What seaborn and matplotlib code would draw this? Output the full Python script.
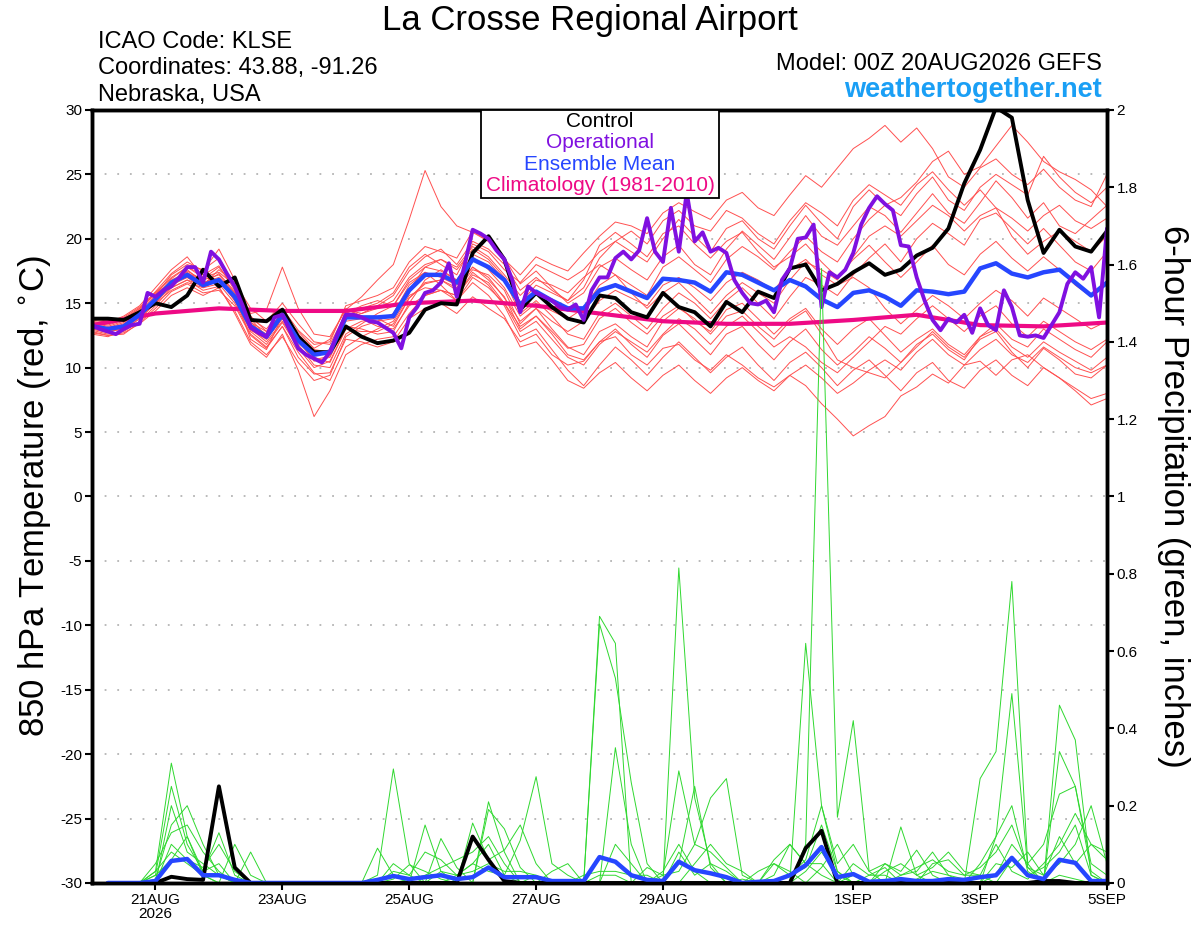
import numpy as np
import pandas as pd
import seaborn as sns
import matplotlib.pyplot as plt
from matplotlib.patches import Rectangle

sns.set_style("white")
plt.rcParams['font.family'] = ['Liberation Sans', 'DejaVu Sans']
plt.rcParams['axes.unicode_minus'] = False
for key in ['text.color', 'axes.labelcolor', 'xtick.color', 'ytick.color']:
    plt.rcParams[key] = 'black'

# hours after 00Z 20AUG2026
hours = list(range(0, 385, 6))          # 6-hourly ensemble output
op_hours = list(range(0, 385, 3))       # 3-hourly operational run
clim_hours = list(range(0, 385, 24))    # daily climatology
precip_hours = list(range(6, 385, 6))   # 6-h accumulation ending at

tick_hours = [24, 72, 120, 168, 216, 288, 336, 384]
tick_labels = ['21AUG\n2026', '23AUG', '25AUG', '27AUG', '29AUG', '1SEP', '3SEP', '5SEP']

# 850 hPa temperature (C)
control_temp = [
    13.8, 13.8, 13.7, 14.3, 15.0, 14.7, 15.6, 17.6, 16.3, 17.0, 13.7, 13.6, 14.5, 12.4, 11.2, 11.2,
    13.2, 12.4, 11.9, 12.1, 12.7, 14.5, 15.0, 14.9, 18.9, 20.2, 18.4, 14.5, 15.8, 14.7, 13.8, 13.5,
    15.6, 15.4, 14.3, 13.9, 15.8, 14.7, 14.3, 13.2, 15.1, 14.3, 15.9, 15.4, 17.7, 18.0, 16.0, 16.5,
    17.4, 18.1, 17.2, 17.6, 18.7, 19.3, 20.8, 24.3, 26.9, 30.2, 29.4, 23.0, 18.9, 20.7, 19.4, 19.0, 20.6]

mean_temp = [
    13.2, 13.0, 13.2, 14.1, 15.3, 16.6, 17.2, 16.4, 16.8, 15.5, 13.2, 12.4, 14.1, 12.1, 11.0, 11.2,
    13.9, 13.9, 13.9, 14.0, 16.0, 17.2, 17.2, 16.6, 18.4, 17.8, 16.8, 14.9, 15.9, 15.2, 14.6, 14.6,
    16.0, 16.4, 15.9, 15.4, 16.9, 16.8, 16.6, 15.9, 17.4, 17.2, 16.6, 16.0, 16.8, 16.3, 15.3, 14.7,
    15.8, 16.0, 15.5, 14.8, 16.0, 15.9, 15.7, 15.9, 17.7, 18.1, 17.3, 17.0, 17.4, 17.6, 16.6, 15.6, 16.6]

oper_temp = [
    13.3, 13.0, 12.8, 12.6, 13.0, 13.3, 13.4, 15.8, 15.5, 16.0, 16.3, 17.0, 17.8, 17.8, 16.6, 19.0,
    18.4, 17.3, 16.3, 14.8, 13.1, 12.7, 12.4, 13.9, 14.1, 12.8, 11.5, 11.0, 10.7, 10.4, 11.2, 12.7,
    14.1, 14.1, 13.9, 13.6, 13.5, 13.1, 12.7, 11.5, 13.9, 14.7, 15.8, 16.0, 16.6, 18.1, 15.5, 18.0,
    20.7, 20.4, 20.0, 19.1, 18.4, 16.8, 14.3, 16.3, 15.8, 15.5, 15.2, 14.7, 14.5, 14.9, 13.7, 16.0,
    17.0, 17.0, 18.5, 19.0, 18.4, 19.1, 21.6, 19.0, 18.2, 22.4, 19.0, 23.6, 19.8, 20.5, 19.0, 19.3,
    18.9, 16.8, 15.8, 15.0, 14.9, 15.2, 14.3, 16.8, 17.7, 20.0, 20.1, 21.1, 14.7, 17.4, 17.0, 17.6,
    18.9, 21.1, 22.4, 23.3, 22.7, 22.2, 19.5, 19.4, 17.0, 15.2, 13.7, 12.9, 13.8, 13.5, 14.1, 12.7,
    14.6, 13.3, 12.9, 16.0, 14.7, 12.5, 12.4, 12.5, 12.3, 13.3, 14.3, 16.5, 17.4, 16.9, 17.8, 13.9, 20.8]

clim_temp = [13.3, 14.2, 14.6, 14.4, 14.4, 15.0, 15.2, 14.8, 14.2, 13.6, 13.4, 13.4, 13.7, 14.1, 13.3, 13.2, 13.5]

temp_members = [
    [13.5, 13.2, 13.6, 14.5, 15.8, 16.9, 17.8, 17.2, 17.9, 16.0, 13.8, 13.0, 14.6, 12.9, 11.8, 12.0,
     14.8, 15.2, 15.6, 16.2, 18.2, 19.4, 19.0, 18.5, 20.6, 19.8, 18.4, 17.2, 18.6, 18.0, 17.5, 18.9,
     20.2, 21.3, 21.0, 20.4, 22.0, 22.8, 22.1, 21.5, 23.0, 23.6, 22.4, 21.8, 23.4, 24.9, 24.0, 25.5,
     27.0, 27.8, 28.8, 27.5, 28.6, 27.0, 24.8, 24.0, 25.5, 26.2, 25.0, 24.2, 25.4, 24.0, 23.0, 22.5, 25.0],
    [12.8, 12.5, 12.6, 13.5, 14.6, 15.9, 16.5, 15.8, 16.0, 14.8, 12.5, 11.5, 13.2, 10.8, 9.5, 9.6,
     12.2, 12.0, 11.6, 12.0, 13.8, 14.6, 15.0, 14.2, 15.5, 14.6, 13.8, 12.0, 12.6, 11.0, 10.2, 10.5,
     12.0, 12.4, 11.0, 10.2, 11.5, 11.8, 10.6, 9.8, 11.0, 10.2, 9.2, 8.5, 9.4, 8.6, 7.2, 6.0,
     4.7, 5.5, 6.2, 7.8, 8.5, 9.5, 8.8, 10.2, 10.5, 9.4, 10.6, 11.0, 10.0, 9.2, 8.4, 7.6, 8.0],
    [13.0, 12.8, 13.0, 14.0, 15.0, 16.5, 17.5, 16.8, 17.2, 15.8, 13.5, 12.8, 14.2, 12.5, 11.3, 11.0,
     14.5, 15.5, 16.8, 18.0, 21.5, 25.3, 22.5, 21.0, 20.5, 19.8, 18.5, 16.5, 17.5, 16.2, 15.0, 15.8,
     17.8, 18.5, 17.6, 16.8, 18.6, 19.5, 18.0, 17.2, 19.2, 20.6, 19.5, 18.4, 20.1, 21.8, 20.2, 19.5,
     21.0, 22.5, 21.8, 20.5, 22.0, 23.5, 22.0, 21.2, 22.8, 24.5, 23.2, 21.6, 22.8, 21.0, 20.4, 21.5, 22.6],
    [12.9, 12.6, 12.8, 13.6, 14.8, 16.2, 16.8, 16.0, 16.3, 14.2, 11.8, 10.8, 12.6, 9.8, 6.2, 8.2,
     11.0, 11.8, 12.2, 12.4, 14.2, 15.6, 16.0, 15.2, 17.0, 16.2, 15.0, 13.2, 14.0, 12.8, 11.5, 11.8,
     13.8, 14.6, 13.5, 12.6, 14.0, 14.8, 13.6, 12.8, 14.5, 15.0, 13.8, 12.6, 13.8, 14.6, 13.0, 11.8,
     13.0, 13.8, 12.5, 11.2, 12.2, 13.0, 11.8, 11.0, 12.4, 13.0, 11.6, 10.8, 12.0, 11.2, 10.5, 9.8, 10.8],
    [13.4, 13.1, 13.5, 14.4, 15.6, 17.2, 18.0, 17.6, 18.5, 16.4, 14.2, 14.5, 17.8, 14.6, 12.6, 12.4,
     14.5, 14.2, 14.8, 15.6, 17.5, 18.6, 19.2, 18.0, 19.8, 19.2, 18.0, 16.0, 17.0, 16.0, 15.2, 16.2,
     18.5, 19.8, 19.0, 18.2, 20.0, 21.5, 20.2, 19.0, 20.8, 21.4, 20.0, 19.2, 21.0, 22.6, 21.2, 20.0,
     22.5, 23.8, 22.6, 21.8, 23.5, 24.8, 23.0, 22.2, 24.0, 25.0, 24.2, 23.4, 26.4, 24.8, 23.6, 22.8, 24.0],
    [13.6, 13.4, 13.8, 14.6, 15.9, 17.3, 18.2, 17.5, 19.2, 16.8, 14.0, 12.8, 14.2, 12.2, 10.5, 10.8,
     13.2, 13.0, 12.6, 12.8, 15.0, 16.8, 17.6, 16.8, 18.8, 18.2, 16.8, 14.2, 15.2, 14.0, 12.6, 12.2,
     14.2, 15.0, 14.0, 13.0, 14.6, 15.8, 15.0, 13.8, 15.2, 16.2, 15.0, 13.8, 15.5, 17.0, 16.4, 15.6,
     17.2, 18.5, 19.6, 18.2, 20.0, 21.2, 20.4, 19.5, 21.5, 22.0, 20.8, 19.6, 20.8, 19.5, 18.2, 17.5, 19.0],
    [12.6, 12.4, 12.9, 13.8, 15.0, 16.0, 16.6, 16.2, 16.8, 15.2, 12.8, 11.8, 13.5, 11.5, 10.0, 10.5,
     13.0, 13.6, 13.8, 13.2, 15.4, 16.5, 16.8, 16.2, 17.8, 16.8, 15.5, 13.0, 14.0, 12.6, 11.0, 10.6,
     12.0, 13.0, 11.8, 10.8, 12.5, 13.4, 12.2, 11.0, 12.6, 13.2, 11.8, 10.6, 12.0, 13.0, 11.4, 10.2,
     11.2, 12.4, 11.5, 10.4, 11.6, 12.8, 11.6, 10.8, 12.2, 12.8, 11.2, 10.0, 11.5, 10.6, 9.5, 9.2, 10.2],
    [13.3, 13.0, 13.3, 14.2, 15.4, 16.8, 17.4, 16.6, 17.0, 15.8, 13.4, 12.6, 14.4, 12.6, 11.4, 11.2,
     13.8, 14.2, 14.6, 15.2, 17.0, 18.0, 18.4, 17.6, 19.2, 18.4, 17.0, 15.0, 16.4, 15.8, 15.2, 16.8,
     19.5, 20.5, 19.6, 18.6, 20.4, 21.0, 19.6, 18.5, 19.8, 20.5, 19.0, 17.8, 18.6, 19.6, 18.2, 17.0,
     18.4, 19.5, 18.2, 17.0, 18.2, 19.5, 18.0, 17.2, 18.8, 19.8, 18.5, 17.5, 18.6, 17.6, 16.4, 15.5, 16.6],
    [13.1, 12.9, 13.1, 13.9, 15.1, 16.4, 17.0, 16.2, 16.5, 15.0, 12.6, 11.6, 13.2, 11.2, 9.6, 9.0,
     11.6, 12.4, 13.0, 13.6, 15.6, 16.2, 16.0, 15.6, 17.4, 16.4, 14.8, 12.4, 13.0, 11.4, 9.8, 8.6,
     10.2, 11.6, 10.6, 9.4, 10.8, 12.0, 10.8, 9.6, 10.8, 11.6, 10.2, 9.0, 10.4, 11.2, 10.0, 8.6,
     9.8, 10.6, 9.4, 8.2, 9.6, 10.4, 9.0, 8.4, 9.8, 10.6, 9.4, 8.6, 10.0, 9.2, 8.2, 7.1, 7.6],
    [13.7, 13.5, 14.0, 14.8, 16.2, 17.6, 18.6, 17.0, 16.8, 15.6, 12.2, 11.4, 14.0, 12.8, 11.5, 12.2,
     14.6, 14.0, 13.6, 13.8, 16.0, 17.8, 17.5, 16.8, 18.6, 17.6, 16.2, 14.0, 15.0, 14.4, 13.8, 14.6,
     16.4, 17.2, 16.4, 15.6, 17.8, 18.6, 17.6, 16.6, 18.4, 19.4, 18.6, 17.6, 19.0, 20.2, 19.0, 18.2,
     20.0, 21.5, 22.6, 23.2, 24.4, 26.0, 26.8, 25.0, 25.6, 27.2, 28.8, 27.5, 26.0, 25.2, 24.6, 23.8, 22.5],
    [13.2, 13.0, 13.4, 14.3, 15.2, 16.2, 16.8, 16.4, 17.6, 16.6, 14.6, 13.6, 15.0, 13.4, 12.0, 11.8,
     14.2, 14.8, 15.2, 14.8, 16.6, 17.4, 17.0, 16.4, 17.8, 17.0, 15.4, 13.6, 14.6, 13.6, 12.8, 13.6,
     15.2, 16.0, 15.4, 14.8, 16.4, 17.0, 16.2, 15.2, 16.6, 17.4, 16.8, 16.0, 17.6, 18.4, 17.2, 16.4,
     17.0, 16.2, 14.6, 13.4, 14.5, 15.6, 14.8, 13.8, 15.0, 16.0, 15.2, 14.0, 15.4, 14.6, 13.8, 13.0, 13.6],
    [13.8, 13.6, 13.9, 14.7, 15.8, 17.0, 17.8, 17.0, 17.4, 16.4, 13.8, 12.4, 13.8, 12.0, 10.8, 10.4,
     13.0, 12.8, 12.8, 13.4, 15.4, 16.6, 16.8, 16.0, 17.6, 17.2, 16.0, 13.4, 14.6, 13.0, 11.6, 11.0,
     12.8, 13.4, 12.4, 11.6, 13.6, 14.6, 13.8, 12.6, 14.0, 14.4, 13.2, 12.2, 13.6, 14.4, 12.6, 10.6,
     10.0, 9.6, 9.2, 10.4, 11.8, 12.6, 11.4, 10.6, 12.4, 13.4, 12.2, 11.6, 13.0, 12.2, 11.4, 10.8, 12.0],
    [13.0, 12.7, 13.2, 14.0, 15.5, 16.6, 17.3, 16.9, 17.8, 16.2, 13.6, 12.2, 13.8, 12.4, 11.0, 11.4,
     14.0, 14.6, 15.0, 15.8, 17.8, 18.8, 18.0, 17.2, 19.6, 19.0, 17.6, 16.6, 18.0, 17.4, 16.8, 17.6,
     19.0, 19.8, 20.6, 19.6, 21.4, 22.2, 21.0, 20.6, 22.2, 21.6, 20.4, 19.6, 21.4, 22.8, 22.0, 21.0,
     23.0, 24.2, 23.4, 22.6, 24.2, 25.2, 23.8, 22.6, 23.8, 22.4, 21.6, 20.6, 21.8, 22.6, 21.4, 20.8, 21.6],
    [12.7, 12.5, 12.7, 13.4, 14.4, 15.6, 16.2, 15.6, 16.2, 14.4, 12.0, 11.0, 12.4, 10.4, 9.0, 9.4,
     12.4, 13.2, 13.6, 14.2, 16.4, 17.4, 16.4, 15.2, 16.6, 15.6, 14.0, 11.6, 12.0, 10.6, 9.0, 8.4,
     9.6, 10.4, 9.2, 8.2, 9.4, 10.2, 9.0, 8.0, 9.2, 10.0, 9.0, 8.2, 9.4, 10.2, 9.2, 8.0,
     8.8, 9.8, 10.6, 9.8, 11.2, 12.2, 11.0, 10.2, 11.4, 12.2, 11.0, 10.4, 11.6, 10.8, 10.0, 9.6, 10.2],
    [13.5, 13.3, 13.7, 14.6, 15.7, 16.7, 17.0, 16.5, 17.3, 15.9, 13.0, 12.0, 13.6, 11.8, 10.2, 10.0,
     12.6, 13.4, 14.2, 14.8, 16.8, 17.8, 18.4, 17.8, 19.4, 18.6, 17.2, 15.6, 16.8, 16.4, 15.8, 17.0,
     18.0, 17.2, 15.8, 14.6, 15.8, 16.6, 15.4, 14.2, 15.6, 16.6, 15.8, 15.0, 16.8, 18.2, 17.6, 16.8,
     18.6, 20.2, 21.0, 20.2, 21.4, 22.6, 21.8, 20.6, 21.8, 22.4, 20.2, 18.8, 19.8, 20.6, 19.8, 19.0, 20.2],
    [13.1, 12.8, 13.0, 13.8, 15.0, 16.4, 17.6, 16.6, 16.9, 15.2, 12.9, 12.2, 14.0, 12.0, 10.6, 10.9,
     13.6, 13.8, 13.2, 13.0, 14.8, 15.6, 16.0, 15.6, 17.2, 16.6, 15.0, 12.8, 13.6, 12.2, 10.8, 10.2,
     11.8, 12.8, 12.0, 11.2, 12.6, 13.8, 13.0, 11.8, 13.2, 14.0, 12.8, 11.6, 12.4, 11.6, 10.4, 9.6,
     10.8, 12.0, 13.2, 12.6, 13.8, 14.8, 13.8, 12.8, 14.0, 14.8, 13.4, 12.4, 13.6, 12.8, 12.0, 11.4, 12.2],
]

# 6-hour precipitation (inches)
control_precip = [
    0, 0, 0, 0, 0.016, 0.01, 0.008, 0.25, 0.04, 0, 0, 0, 0, 0, 0, 0,
    0, 0, 0, 0, 0, 0, 0, 0.12, 0.06, 0.005, 0, 0, 0, 0, 0, 0,
    0, 0, 0, 0, 0, 0, 0, 0, 0, 0, 0, 0, 0.09, 0.135, 0, 0,
    0, 0, 0, 0, 0, 0, 0, 0, 0, 0, 0, 0.005, 0.005, 0, 0, 0]

mean_precip = [
    0, 0, 0, 0.005, 0.057, 0.062, 0.02, 0.02, 0.008, 0, 0, 0, 0, 0, 0, 0,
    0, 0.008, 0.018, 0.01, 0.015, 0.02, 0.01, 0.015, 0.04, 0.015, 0.015, 0.015, 0.005, 0.005, 0.005, 0.067,
    0.055, 0.02, 0.008, 0.005, 0.055, 0.033, 0.025, 0.015, 0, 0.003, 0.005, 0.02, 0.046, 0.093, 0.015, 0.023,
    0.003, 0.005, 0.01, 0.005, 0.005, 0.01, 0.008, 0.015, 0.02, 0.065, 0.02, 0.01, 0.06, 0.052, 0.005, 0.005]

precip_members = [
    [0, 0, 0, 0.03, 0.31, 0.12, 0.02, 0, 0, 0, 0, 0, 0, 0, 0, 0,
     0, 0.02, 0.295, 0.05, 0, 0, 0, 0, 0, 0, 0, 0, 0, 0, 0, 0.69,
     0.62, 0, 0, 0, 0, 0, 0, 0, 0, 0, 0, 0, 0.1, 1.59, 0.17, 0.42,
     0.03, 0, 0, 0, 0, 0, 0, 0.27, 0.34, 0.78, 0.05, 0, 0.02, 0.01, 0, 0],
    [0, 0, 0, 0.02, 0.25, 0.1, 0.03, 0.13, 0.02, 0, 0, 0, 0, 0, 0, 0,
     0, 0, 0, 0, 0.15, 0.03, 0, 0, 0.21, 0.08, 0, 0, 0, 0, 0, 0.67,
     0.53, 0.26, 0.05, 0, 0.815, 0.22, 0.05, 0, 0, 0, 0, 0, 0.62, 0.2, 0.03, 0,
     0, 0, 0.145, 0.02, 0, 0, 0, 0, 0.12, 0.49, 0.04, 0, 0.46, 0.37, 0.02, 0],
    [0, 0, 0, 0.05, 0.13, 0.15, 0.08, 0.03, 0, 0.08, 0, 0, 0, 0, 0, 0,
     0, 0.09, 0.02, 0, 0, 0.115, 0.04, 0, 0.19, 0.14, 0.04, 0, 0, 0, 0, 0,
     0.35, 0.1, 0, 0.02, 0.29, 0.1, 0.22, 0.27, 0.02, 0, 0, 0, 0.03, 0.08, 0.02, 0,
     0, 0.05, 0.03, 0.085, 0.02, 0, 0, 0.05, 0.12, 0.2, 0.03, 0, 0.34, 0.25, 0.05, 0.02],
    [0, 0, 0, 0, 0.2, 0.08, 0.05, 0.02, 0, 0, 0, 0, 0, 0, 0, 0,
     0, 0, 0.01, 0.047, 0.03, 0.01, 0, 0.155, 0.06, 0.085, 0.15, 0.05, 0, 0, 0, 0.02,
     0.02, 0, 0, 0, 0.05, 0.25, 0.04, 0, 0, 0.03, 0.05, 0.03, 0, 0.04, 0.1, 0.02,
     0, 0, 0.02, 0.03, 0.08, 0.02, 0, 0, 0.02, 0.1, 0.05, 0.1, 0.23, 0.25, 0.03, 0],
    [0, 0, 0, 0.01, 0.15, 0.2, 0.1, 0.02, 0, 0, 0, 0, 0, 0, 0, 0,
     0, 0, 0, 0, 0, 0, 0.02, 0.05, 0.03, 0.02, 0.11, 0.275, 0.05, 0.02, 0, 0,
     0, 0, 0, 0.03, 0.1, 0.03, 0, 0, 0.01, 0, 0.06, 0.1, 0.05, 0.02, 0, 0.05,
     0.02, 0.02, 0, 0, 0.05, 0.06, 0.02, 0.04, 0.08, 0.15, 0.04, 0.02, 0.12, 0.05, 0.1, 0.06],
    [0, 0, 0, 0, 0.1, 0.06, 0.04, 0.1, 0.03, 0, 0, 0, 0, 0, 0, 0,
     0, 0, 0.05, 0.02, 0, 0.03, 0.02, 0.05, 0.1, 0.02, 0, 0, 0.03, 0.05, 0, 0,
     0.1, 0.05, 0, 0, 0.08, 0.02, 0.05, 0.03, 0, 0, 0.02, 0.1, 0.05, 0.05, 0, 0.02,
     0, 0.03, 0.05, 0.02, 0.04, 0.08, 0.03, 0.02, 0, 0.06, 0.02, 0.04, 0.08, 0.15, 0.02, 0],
    [0, 0, 0, 0.03, 0.08, 0.05, 0.02, 0, 0.1, 0.02, 0, 0, 0, 0, 0, 0,
     0, 0, 0.03, 0.02, 0.08, 0.06, 0.02, 0.03, 0.05, 0.03, 0.03, 0.02, 0, 0, 0.02, 0.03,
     0.03, 0.02, 0.02, 0, 0, 0.05, 0.1, 0.05, 0.03, 0, 0, 0.02, 0.04, 0.15, 0.03, 0,
     0.02, 0.04, 0, 0.01, 0.03, 0.02, 0.01, 0, 0.05, 0.04, 0.08, 0.02, 0.05, 0.1, 0.2, 0.05],
    [0, 0, 0, 0.02, 0.06, 0.12, 0.03, 0.05, 0, 0, 0, 0, 0, 0, 0, 0,
     0, 0, 0, 0.01, 0.02, 0.04, 0.06, 0.08, 0.12, 0.05, 0, 0.02, 0, 0, 0, 0,
     0, 0, 0.04, 0.02, 0.03, 0.1, 0.08, 0.04, 0, 0, 0.05, 0.02, 0.06, 0.2, 0.05, 0.1,
     0.03, 0.05, 0.02, 0.04, 0.06, 0.03, 0.02, 0.02, 0.1, 0.03, 0.01, 0.05, 0.1, 0.18, 0.1, 0.08],
]


def members_frame(members, xs, name):
    rows = []
    for k, vals in enumerate(members):
        for h, v in zip(xs, vals):
            rows.append((k, h, v))
    return pd.DataFrame(rows, columns=['member', 'hour', name])


temp_df = members_frame(temp_members, hours, 'temp')
precip_df = members_frame(precip_members, precip_hours, 'precip')

fig = plt.figure(figsize=(12, 9.27), dpi=100)
ax = fig.add_axes([0.0767, 0.0475, 0.8458, 0.8339])
ax2 = ax.twinx()

for v in range(-25, 30, 5):
    ax.axhline(v, color='#b4b4b4', lw=1.3, ls=(0, (1, 6)), zorder=0)

sns.lineplot(data=temp_df, x='hour', y='temp', units='member', estimator=None,
             color='#ff5050', lw=0.7, ax=ax, legend=False)
sns.lineplot(x=clim_hours, y=clim_temp, color='#ee0a85', lw=3, ax=ax)
sns.lineplot(x=hours, y=control_temp, color='black', lw=2.8, ax=ax)
sns.lineplot(x=hours, y=mean_temp, color='#2646ff', lw=3.2, ax=ax)
sns.lineplot(x=op_hours, y=oper_temp, color='#8010e0', lw=2.8, ax=ax)

sns.lineplot(data=precip_df, x='hour', y='precip', units='member', estimator=None,
             color='#2fd82f', lw=0.7, ax=ax2, legend=False)
sns.lineplot(x=precip_hours, y=control_precip, color='black', lw=2.8, ax=ax2)
sns.lineplot(x=precip_hours, y=mean_precip, color='#2646ff', lw=3.2, ax=ax2)

ax.set_xlim(0, 384)
ax.set_ylim(-30, 30)
ax2.set_ylim(0, 2)

ax.set_xticks(tick_hours)
ax.set_xticklabels(tick_labels, fontsize=11, linespacing=1.05)
ax.set_yticks(range(-30, 31, 5))
ax.tick_params(axis='both', labelsize=11, length=5, width=1.5, direction='out',
               left=True, bottom=True, pad=2)
ax2.set_yticks([0, 0.2, 0.4, 0.6, 0.8, 1, 1.2, 1.4, 1.6, 1.8, 2])
ax2.set_yticklabels(['0', '0.2', '0.4', '0.6', '0.8', '1', '1.2', '1.4', '1.6', '1.8', '2'])
ax2.tick_params(axis='y', labelsize=11, length=5, width=1.5, direction='out', right=True, pad=2)

ax.set_xlabel('')
ax.set_ylabel('850 hPa Temperature (red, $^{\\circ}$C)', fontsize=25)
ax.yaxis.set_label_coords(-0.038, 0.5)
ax2.set_ylabel('6-hour Precipitation (green, inches)', fontsize=25, rotation=270, va='center')
ax2.yaxis.set_label_coords(1.066, 0.5)

for a in (ax, ax2):
    for s in a.spines.values():
        s.set_linewidth(2.5)
        s.set_color('black')

# legend box
ax2.add_patch(Rectangle((0.383, 0.886), 0.235, 0.114, transform=ax2.transAxes,
                        facecolor='white', edgecolor='black', lw=1.3, zorder=10))
legend_items = [('Control', 'black', 0.985), ('Operational', '#8010e0', 0.958),
                ('Ensemble Mean', '#2646ff', 0.930), ('Climatology (1981-2010)', '#ee0a85', 0.902)]
for txt, col, yy in legend_items:
    ax2.text(0.5005, yy, txt, color=col, fontsize=15, ha='center', va='center',
             transform=ax2.transAxes, zorder=11)

fig.text(0.4917, 0.978, 'La Crosse Regional Airport', fontsize=25, ha='center', va='center')
fig.text(0.0817, 0.955, 'ICAO Code: KLSE', fontsize=17, ha='left', va='center')
fig.text(0.0817, 0.927, 'Coordinates: 43.88, -91.26', fontsize=17, ha='left', va='center')
fig.text(0.0817, 0.898, 'Nebraska, USA', fontsize=17, ha='left', va='center')
fig.text(0.9183, 0.931, 'Model: 00Z 20AUG2026 GEFS', fontsize=17, ha='right', va='center')
fig.text(0.9183, 0.903, 'weathertogether.net', fontsize=19.5, fontweight='bold',
         color='#1a9ff5', ha='right', va='center')

fig.savefig('out.png', dpi=100)
